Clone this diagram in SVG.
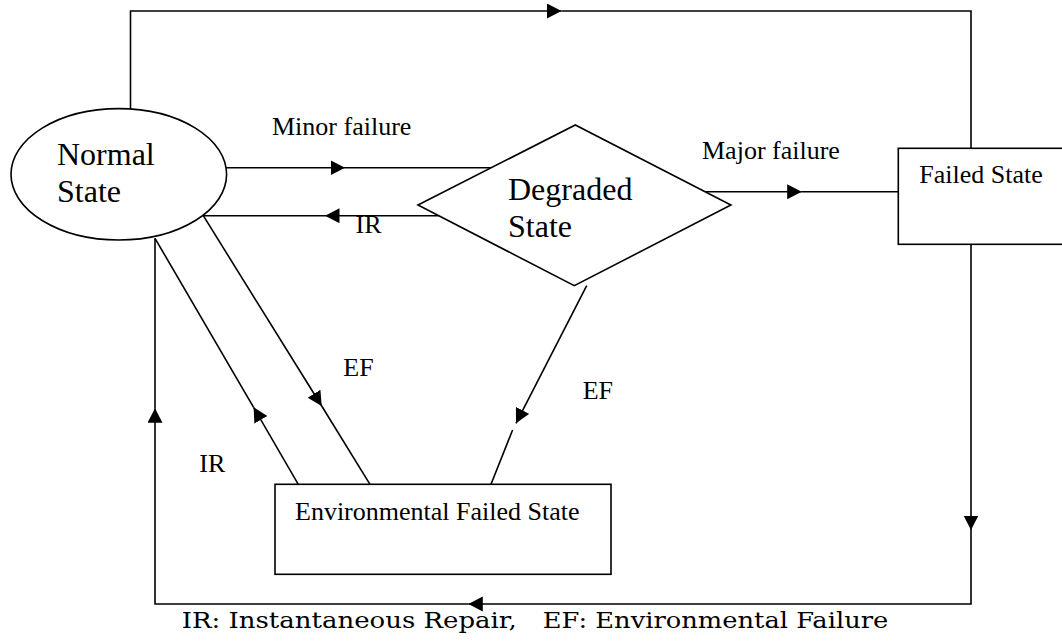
<svg xmlns="http://www.w3.org/2000/svg" width="1062" height="641" viewBox="0 0 1062 641">
  <style>
    .shape { fill: #ffffff; stroke: #000000; stroke-width: 1.6; }
    .conn { fill: none; stroke: #000000; stroke-width: 1.6; }
    .big { font-family: "Liberation Serif", "Times New Roman", serif; font-size: 32px; fill: #000000; }
    .lbl { font-family: "Liberation Serif", "Times New Roman", serif; font-size: 26px; fill: #000000; }
    .legend { font-family: "DejaVu Serif", "Liberation Serif", serif; font-size: 21.5px; fill: #000000; }
  </style>
  <defs>
    <marker id="arr" markerUnits="userSpaceOnUse" markerWidth="16" markerHeight="16" refX="14.5" refY="7.5" orient="auto">
      <path d="M0,0 L14.5,7.5 L0,15 Z" fill="#000000"/>
    </marker>
  </defs>
  <rect width="1062" height="641" fill="#ffffff"/>

  <g id="connectors">
    <!-- Normal -> Failed (top loop) -->
    <path class="conn" d="M130.5,109 L130.5,11 L561.5,11" marker-end="url(#arr)"/>
    <path class="conn" d="M561.5,11 L971,11 L971,148.3"/>
    <!-- Minor failure: Normal -> Degraded -->
    <path class="conn" d="M226.1,167.7 L345,167.7" marker-end="url(#arr)"/>
    <path class="conn" d="M345,167.7 L491.3,167.7"/>
    <!-- IR: Degraded -> Normal -->
    <path class="conn" d="M439.3,215.7 L325,215.7" marker-end="url(#arr)"/>
    <path class="conn" d="M325,215.7 L203.3,215.7"/>
    <!-- Major failure: Degraded -> Failed -->
    <path class="conn" d="M705,191.7 L801.7,191.7" marker-end="url(#arr)"/>
    <path class="conn" d="M801.7,191.7 L898.3,191.7"/>
    <!-- EF: Normal -> Environmental -->
    <path class="conn" d="M203.3,215.7 L321.7,406" marker-end="url(#arr)"/>
    <path class="conn" d="M321.7,406 L370,484.3"/>
    <!-- IR: Environmental -> Normal -->
    <path class="conn" d="M298.3,484.3 L253.6,407.3" marker-end="url(#arr)"/>
    <path class="conn" d="M253.6,407.3 L155,238.3"/>
    <!-- EF: Degraded -> Environmental -->
    <path class="conn" d="M586.7,285.7 L516,423.3" marker-end="url(#arr)"/>
    <path class="conn" d="M512.6,430 L491,484.3"/>
    <!-- Failed -> Normal (bottom loop) -->
    <path class="conn" d="M971,244.3 L971,530" marker-end="url(#arr)"/>
    <path class="conn" d="M971,530 L971,604 L468.3,604" marker-end="url(#arr)"/>
    <path class="conn" d="M468.3,604 L155,604 L155,408.3" marker-end="url(#arr)"/>
    <path class="conn" d="M155,408.3 L155,238.3"/>
  </g>

  <g id="normal-state">
    <ellipse class="shape" cx="118.8" cy="174.3" rx="107.8" ry="65.7"/>
    <text class="big" x="57" y="165">Normal</text>
    <text class="big" x="57" y="202.3">State</text>
  </g>

  <g id="degraded-state">
    <polygon class="shape" points="418,205 575.3,125 730.9,205 574.3,285.7"/>
    <text class="big" x="508" y="200">Degraded</text>
    <text class="big" x="508" y="236.7">State</text>
  </g>

  <g id="failed-state">
    <rect class="shape" x="898.3" y="148.3" width="180" height="96"/>
    <text class="lbl" x="919.3" y="183.3">Failed State</text>
  </g>

  <g id="environmental-failed-state">
    <rect class="shape" x="275" y="484.3" width="336" height="90"/>
    <text class="lbl" x="295" y="520">Environmental Failed State</text>
  </g>

  <g id="labels">
    <text class="lbl" x="272" y="135">Minor failure</text>
    <text class="lbl" x="702" y="159.3">Major failure</text>
    <text class="lbl" x="355.5" y="233">IR</text>
    <text class="lbl" x="343.3" y="375.7">EF</text>
    <text class="lbl" x="199.3" y="471.7">IR</text>
    <text class="lbl" x="582.7" y="399.3">EF</text>
  </g>

  <g id="legend">
    <text class="legend" x="181.7" y="628.3" textLength="335" lengthAdjust="spacingAndGlyphs">IR: Instantaneous Repair,</text>
    <text class="legend" x="542.7" y="628.3" textLength="345.6" lengthAdjust="spacingAndGlyphs">EF: Environmental Failure</text>
  </g>
</svg>
